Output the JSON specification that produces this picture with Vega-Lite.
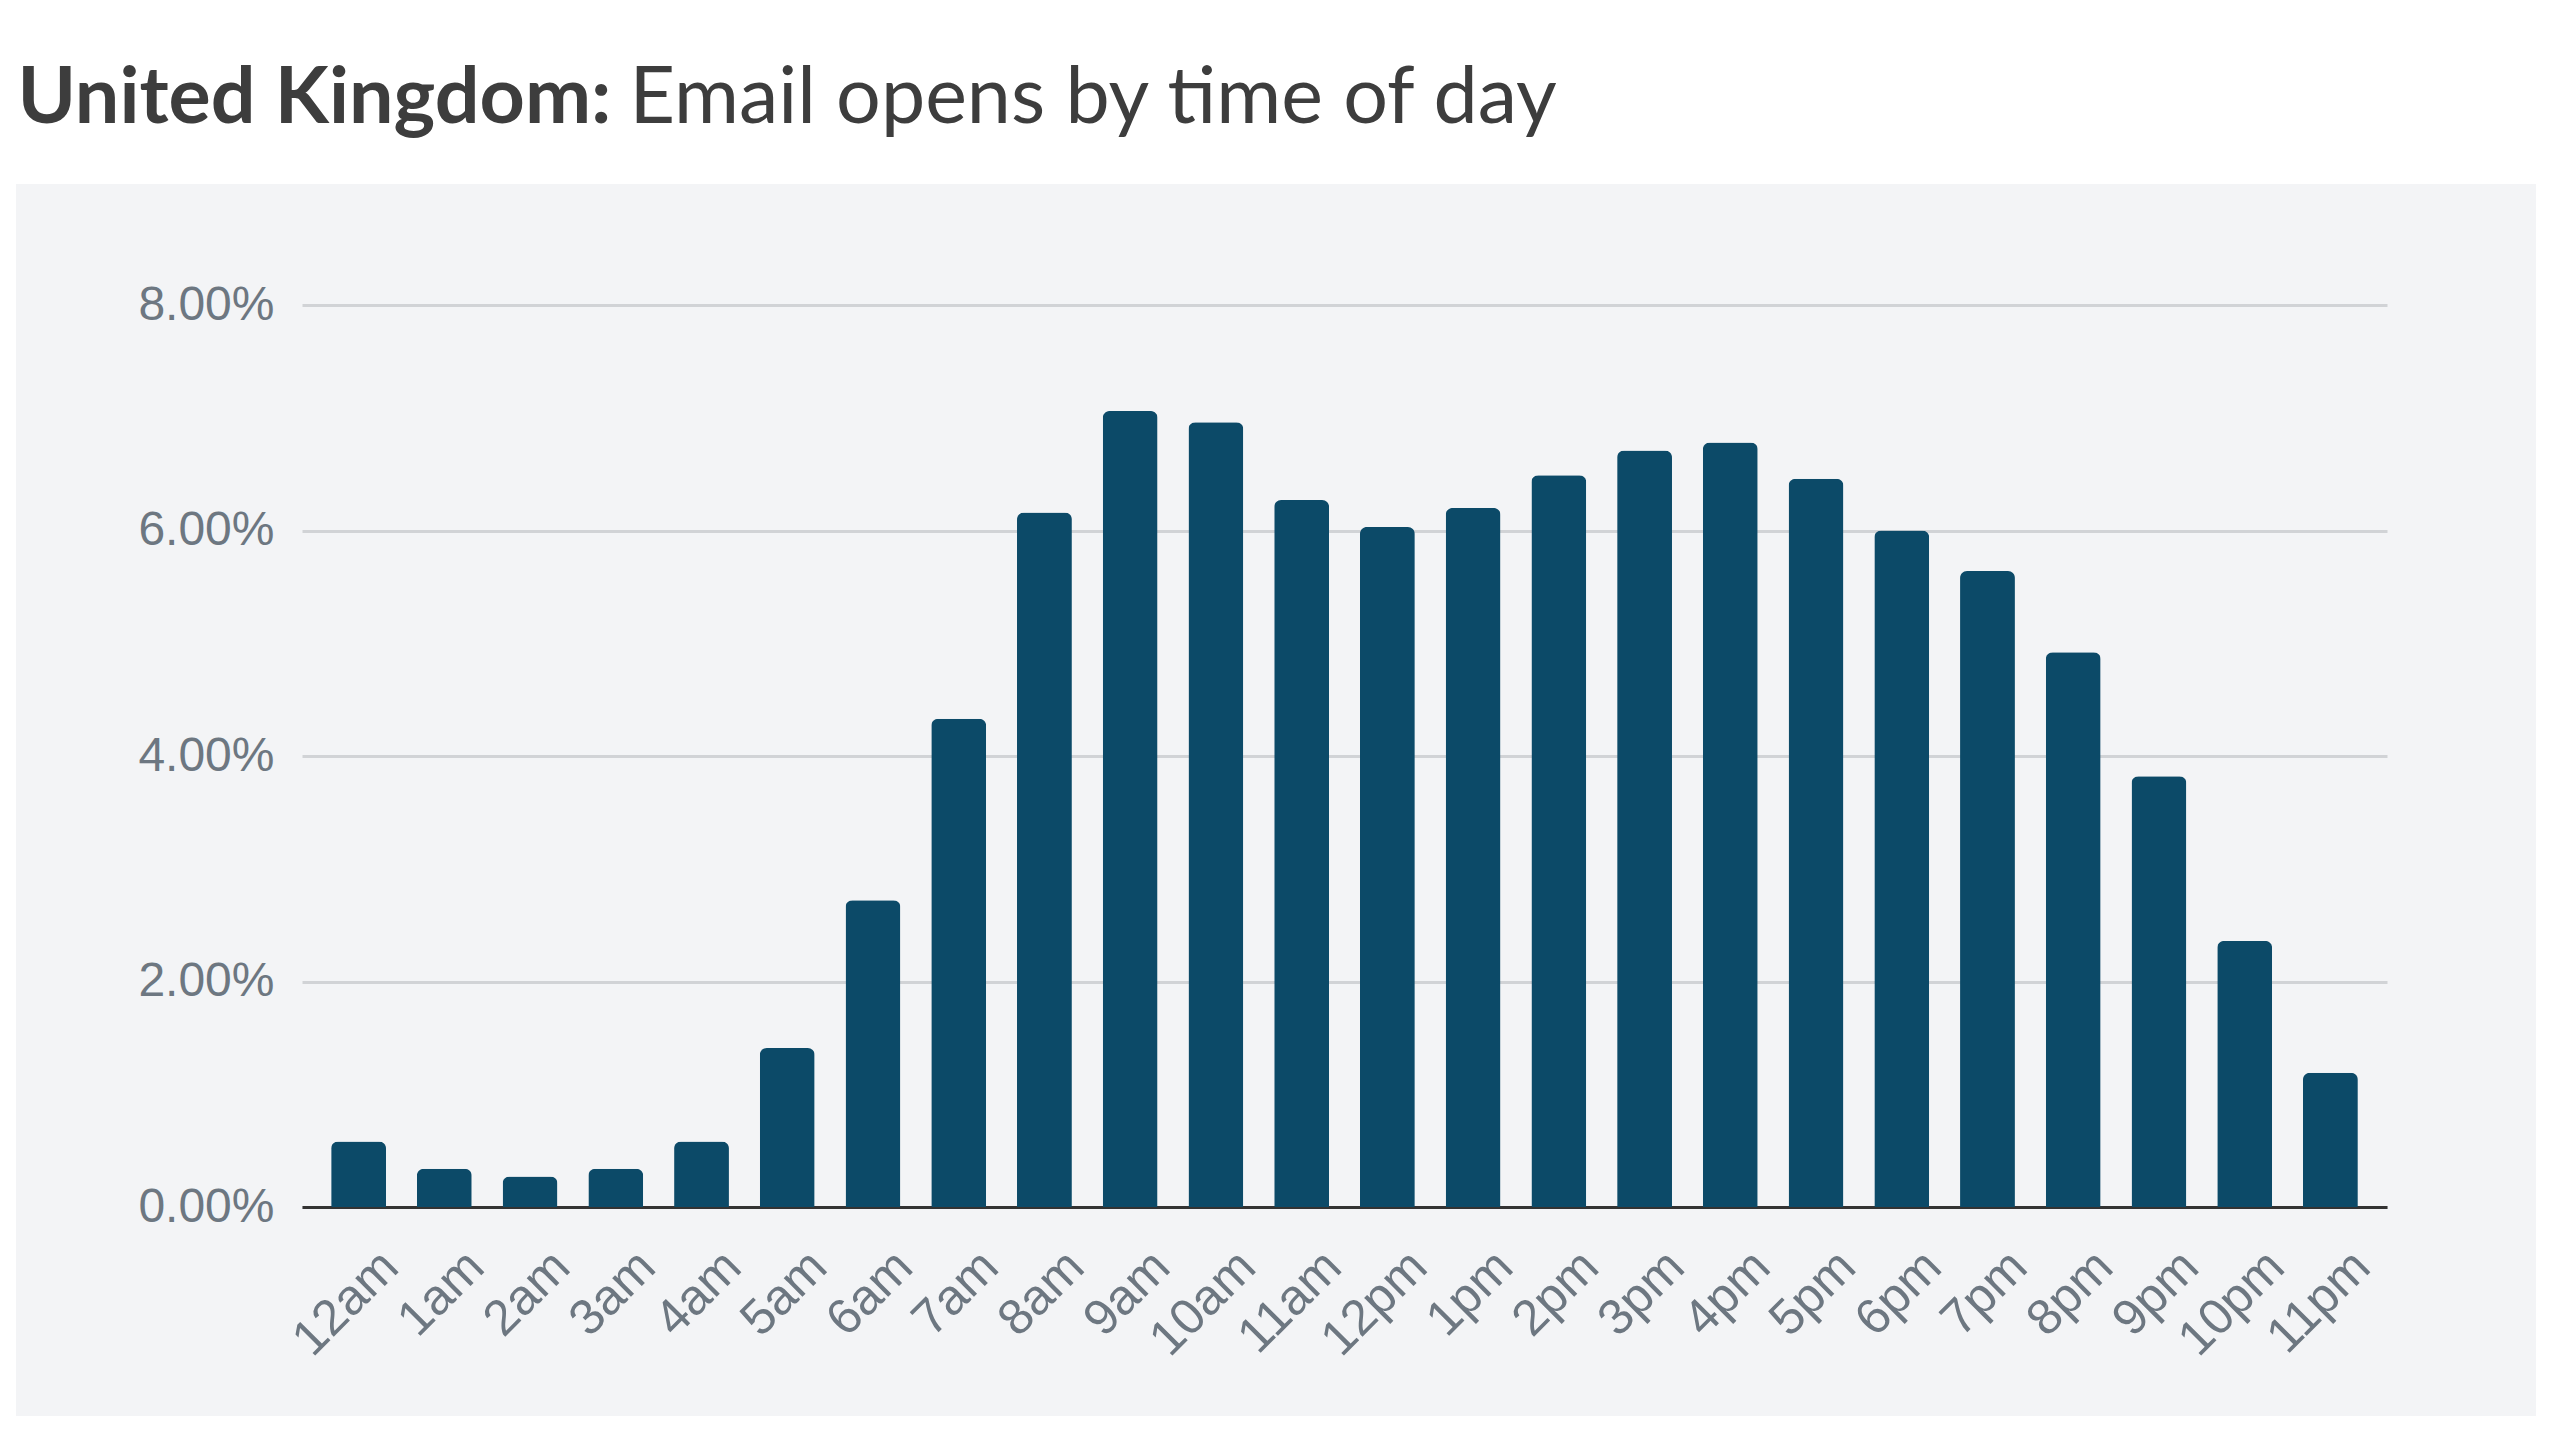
{
  "$schema": "https://vega.github.io/schema/vega-lite/v6.json",
  "width": 2520,
  "height": 1232,
  "autosize": {"type": "none"},
  "padding": {"left": 16, "top": 184, "right": 24, "bottom": 24},
  "background": "#ffffff",
  "data": {
    "values": [
      {"hour": "12am", "opens_pct": 0.58},
      {"hour": "1am", "opens_pct": 0.34},
      {"hour": "2am", "opens_pct": 0.27},
      {"hour": "3am", "opens_pct": 0.34},
      {"hour": "4am", "opens_pct": 0.58},
      {"hour": "5am", "opens_pct": 1.41},
      {"hour": "6am", "opens_pct": 2.72},
      {"hour": "7am", "opens_pct": 4.33},
      {"hour": "8am", "opens_pct": 6.16},
      {"hour": "9am", "opens_pct": 7.06},
      {"hour": "10am", "opens_pct": 6.96},
      {"hour": "11am", "opens_pct": 6.27},
      {"hour": "12pm", "opens_pct": 6.03},
      {"hour": "1pm", "opens_pct": 6.2},
      {"hour": "2pm", "opens_pct": 6.49},
      {"hour": "3pm", "opens_pct": 6.71},
      {"hour": "4pm", "opens_pct": 6.78},
      {"hour": "5pm", "opens_pct": 6.46},
      {"hour": "6pm", "opens_pct": 6.0},
      {"hour": "7pm", "opens_pct": 5.64},
      {"hour": "8pm", "opens_pct": 4.92},
      {"hour": "9pm", "opens_pct": 3.82},
      {"hour": "10pm", "opens_pct": 2.36},
      {"hour": "11pm", "opens_pct": 1.19}
    ]
  },
  "mark": {"type": "bar", "color": "#0c4a68", "cornerRadiusTopLeft": 7, "cornerRadiusTopRight": 7},
  "encoding": {
    "x": {
      "field": "hour",
      "type": "nominal",
      "sort": null,
      "scale": {"range": [286, 2371], "paddingInner": 0.36, "paddingOuter": 0.34},
      "axis": {
        "orient": "bottom",
        "offset": -209,
        "domain": true,
        "domainColor": "#333333",
        "domainWidth": 3,
        "ticks": false,
        "grid": false,
        "labelAngle": -45,
        "labelAlign": "right",
        "labelBaseline": "top",
        "labelPadding": 34,
        "labelOffset": 14,
        "labelFont": "Liberation Sans",
        "labelFontSize": 50,
        "labelColor": "#6d7781",
        "title": "United Kingdom:",
        "titleAngle": 0,
        "titleAlign": "left",
        "titleBaseline": "alphabetic",
        "titleX": 1,
        "titleY": -1085,
        "titleFont": "Lato",
        "titleFontSize": 79,
        "titleFontWeight": "bold",
        "titleColor": "#3d3d3d"
      }
    },
    "y": {
      "field": "opens_pct",
      "type": "quantitative",
      "scale": {"domain": [0, 8], "range": [1023, 121], "nice": false, "zero": true},
      "axis": {
        "orient": "left",
        "offset": -286,
        "values": [0, 2, 4, 6, 8],
        "labelExpr": "format(datum.value, '.2f') + '%'",
        "domain": false,
        "ticks": false,
        "grid": true,
        "gridColor": "#d1d3d6",
        "gridWidth": 3,
        "labelPadding": 28,
        "labelFont": "Liberation Sans",
        "labelFontSize": 48,
        "labelColor": "#6d7781",
        "title": "Email opens by time of day",
        "titleAngle": 0,
        "titleAlign": "left",
        "titleBaseline": "alphabetic",
        "titleX": 327,
        "titleY": -62,
        "titleFont": "Lato",
        "titleFontSize": 79,
        "titleFontWeight": "normal",
        "titleColor": "#3d3d3d"
      }
    }
  },
  "config": {"view": {"fill": "#f3f4f6", "stroke": null}}
}
